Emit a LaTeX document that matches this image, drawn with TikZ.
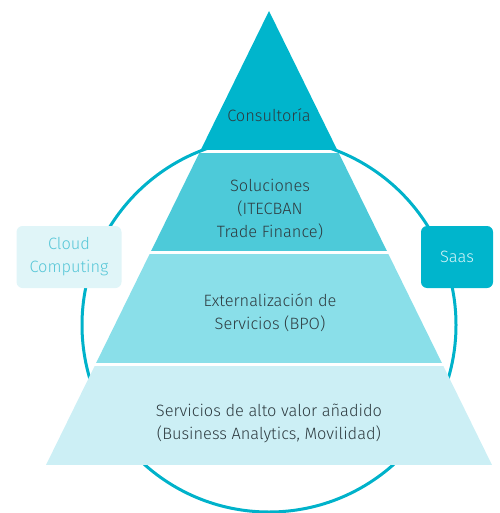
\documentclass[tikz,border=0pt]{standalone}
\usepackage{fontspec}
\setmainfont{Fira Sans}[UprightFont=* Light]
\usepackage{xcolor}
\usetikzlibrary{positioning}

\definecolor{ringcol}{HTML}{00B2CA}
\definecolor{bandA}{HTML}{00B5CC}
\definecolor{bandB}{HTML}{4DCAD9}
\definecolor{bandC}{HTML}{8ADFE9}
\definecolor{bandD}{HTML}{CCEFF5}
\definecolor{textgray}{HTML}{2E3B40}
\definecolor{cloudfill}{HTML}{E0F5F8}
\definecolor{cloudtext}{HTML}{55C6D7}
\definecolor{saastext}{HTML}{D6F4F8}

\begin{document}
\begin{tikzpicture}[x=1pt,y=-1pt,
    lbl/.style={align=center,text=textgray,font=\fontsize{16.4}{23}\selectfont},
    sidebox/.style={rounded corners=6pt,minimum width=105pt,minimum height=62pt,align=center,font=\fontsize{16.4}{23}\selectfont}]
    \useasboundingbox (0,0) rectangle (499,513);

    % Ring
    \draw[line width=3pt,ringcol] (269,325) circle [radius=187pt];

    % Pyramid bands
    \begin{scope}
        \clip (269,11) -- (492,465) -- (46,465) -- cycle;
        \fill[bandA] (0,0) rectangle (499,150);
        \fill[bandB] (0,153) rectangle (499,251);
        \fill[bandC] (0,254) rectangle (499,363);
        \fill[bandD] (0,366) rectangle (499,465);
    \end{scope}

    % Labels
    \node[lbl] (consult) at (269,115) {Consultoría};
    \node[lbl] (soluc) at (270,209) {Soluciones\\(ITECBAN\\Trade Finance)};
    \node[lbl] (extern) at (270,313) {Externalización de\\Servicios (BPO)};
    \node[lbl] (valor) at (269,423) {Servicios de alto valor añadido\\(Business Analytics, Movilidad)};

    % Side boxes
    \node[sidebox,fill=cloudfill,text=cloudtext] (cloud) at (69,257) {Cloud\\Computing};
    \node[sidebox,fill=bandA,text=saastext,minimum width=72pt] (saas) at (457,257) {Saas};
\end{tikzpicture}
\end{document}
